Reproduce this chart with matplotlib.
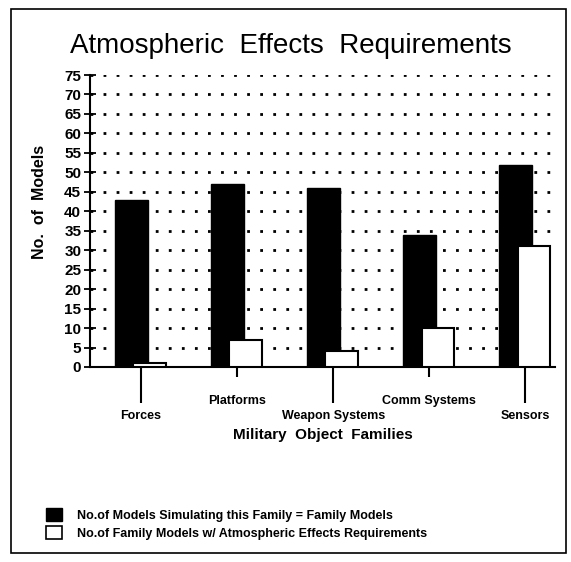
import matplotlib
matplotlib.use("Agg")
import matplotlib.pyplot as plt
from matplotlib.patches import Patch, Rectangle
import numpy as np

plt.rcParams['font.family'] = ['Liberation Sans', 'DejaVu Sans']

# data
families = ["Forces", "Platforms", "Weapon Systems", "Comm Systems", "Sensors"]
family_models = [43, 47, 46, 34, 52]
atmos_models = [1, 7, 4, 10, 31]
yticks = list(range(0, 80, 5))

fig = plt.figure(figsize=(5.71, 5.62), dpi=100)
ax = fig.add_axes([0.158, 0.347, 0.814, 0.5195])

x = np.arange(len(families))
w = 0.34
ax.bar(x - 0.10, family_models, width=w, color='black', edgecolor='black', zorder=3)
ax.bar(x + 0.09, atmos_models, width=w, color='white', edgecolor='black', linewidth=1.5, zorder=4)

ax.set_xlim(-0.53, 4.31)
ax.set_ylim(0, 75)
ax.set_yticks(yticks)
ax.set_yticklabels([str(v) for v in yticks], fontsize=11, fontweight='bold')
ax.tick_params(axis='y', direction='inout', length=9, width=1.3, pad=2)

ax.yaxis.grid(True, color='black', linestyle=(0, (1, 3.7)), linewidth=2.0)
ax.set_axisbelow(True)
for s in ['top', 'right']:
    ax.spines[s].set_visible(False)
for s in ['left', 'bottom']:
    ax.spines[s].set_linewidth(1.5)

# staggered category labels: long ticks (major) and short ticks (minor)
ax.set_xticks(x[::2])
ax.set_xticklabels(families[::2], fontsize=9, fontweight='bold')
ax.set_xticks(x[1::2], minor=True)
ax.set_xticklabels(families[1::2], minor=True, fontsize=9, fontweight='bold')
ax.tick_params(axis='x', which='major', direction='out', width=1.5, length=26, pad=5)
ax.tick_params(axis='x', which='minor', direction='out', width=1.5, length=7, pad=13)

ax.set_xlabel("Military  Object  Families", fontsize=11, fontweight='bold', labelpad=4)
ax.set_ylabel("No.  of  Models", fontsize=11.5, fontweight='bold')
ax.yaxis.set_label_coords(-0.093, 0.565)

fig.text(0.51, 0.918, "Atmospheric  Effects  Requirements", fontsize=20,
         ha='center', va='center')

handles = [Patch(facecolor='black', edgecolor='black'),
           Patch(facecolor='white', edgecolor='black', linewidth=1.2)]
labels = ["No.of Models Simulating this Family = Family Models",
          "No.of Family Models w/ Atmospheric Effects Requirements"]
fig.legend(handles, labels, loc='lower left', bbox_to_anchor=(0.06, 0.02),
           frameon=False, prop={'size': 9, 'weight': 'bold'},
           handlelength=1.3, handleheight=1.3, handletextpad=1.2, labelspacing=0.3)

fig.add_artist(Rectangle((0.02, 0.016), 0.971, 0.968, transform=fig.transFigure,
                         fill=False, edgecolor='black', linewidth=1.2))

fig.savefig("out.png", dpi=100)
